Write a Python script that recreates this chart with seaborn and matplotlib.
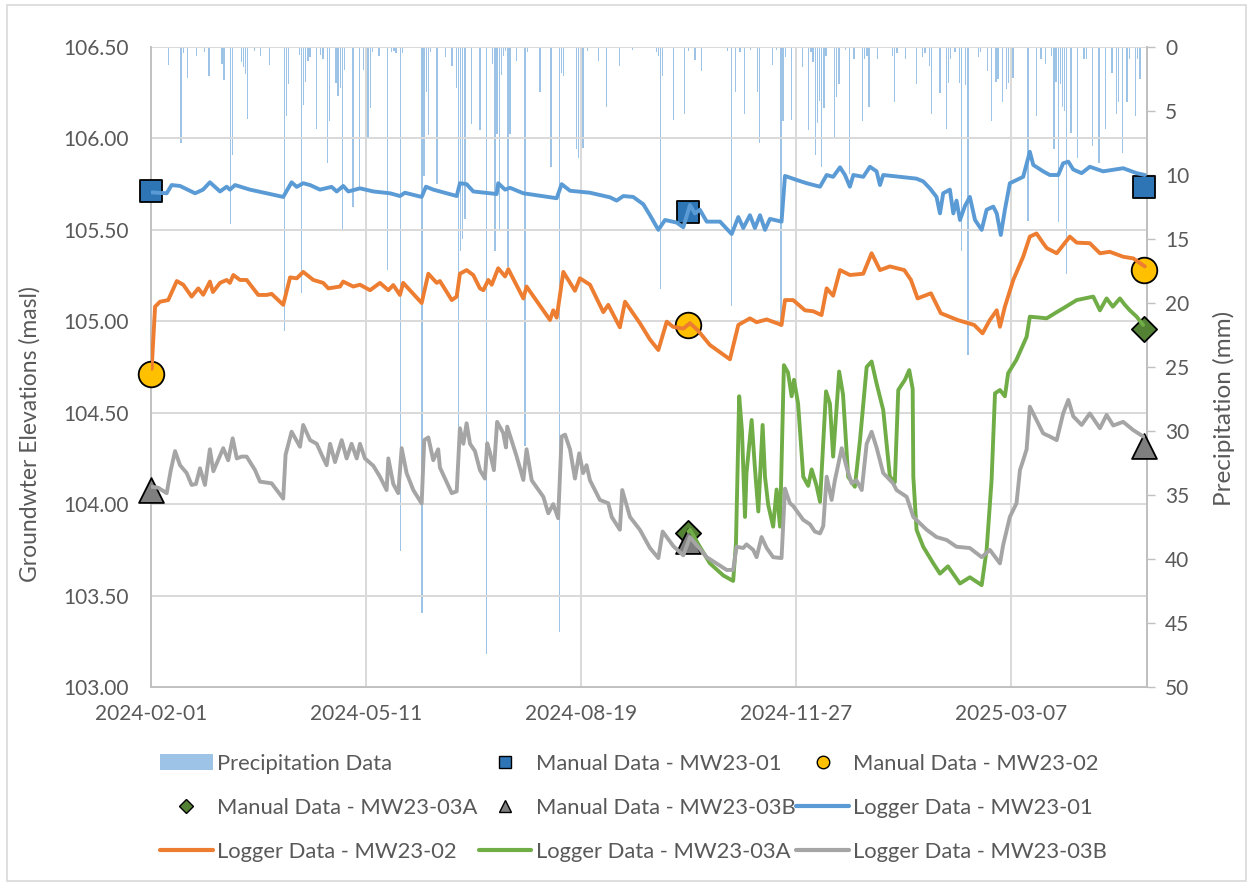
import numpy as np
import pandas as pd
import matplotlib
matplotlib.use("Agg")
import matplotlib.pyplot as plt
import matplotlib.dates as mdates
from matplotlib.patches import Patch, Rectangle
from matplotlib.lines import Line2D
from matplotlib.ticker import FixedLocator, FormatStrFormatter
import seaborn as sns

START = pd.Timestamp("2024-02-01")

# ---- Logger data (days after 2024-02-01, elevation in masl) ----
mw01_days = [0.3, 7.3, 9.6, 13.5, 20.5, 24.2, 27.4, 32.1, 35.2, 36.7, 39.1, 46, 53.8, 61.5, 65.4,
             67.8, 70.8, 74, 78.6, 84, 86.4, 89.4, 91.8, 97.2, 103.4, 111.2, 115.8, 118.1, 125.9,
             127.9, 131.3, 142.2, 143.7, 146.8, 149.9, 160.8, 161.5, 164.7, 167, 173.2, 188.7, 191,
             194.9, 204.2, 213.5, 216.6, 219.7, 224.3, 229, 232.1, 236, 239.1, 244.5, 247.6, 250.7,
             253, 255.3, 258.5, 264.7, 270.1, 273.2, 275.5, 278.6, 280.9, 283.3, 285.6, 287.9, 293.3,
             294.9, 300.3, 305, 311.2, 314.3, 317.3, 320.5, 322.8, 325.1, 326.7, 331.3, 334.4, 337.5,
             339.1, 340.6, 348.4, 356.1, 359.2, 362.3, 365.4, 367, 368.5, 371.6, 373.2, 374.7, 376.3,
             378.6, 380.9, 383.3, 386.4, 388.7, 391.8, 393.4, 395.3, 397.2, 399.5, 405.7, 408.8,
             410.4, 415, 418.1, 422, 424.3, 426.7, 429, 432.9, 436.7, 442.9, 452.2, 458.5, 462.3]
mw01_elev = [105.705, 105.70, 105.745, 105.74, 105.70, 105.72, 105.76, 105.71, 105.736, 105.72,
             105.745, 105.72, 105.70, 105.68, 105.76, 105.735, 105.755, 105.745, 105.72, 105.735,
             105.71, 105.74, 105.71, 105.727, 105.71, 105.70, 105.685, 105.703, 105.68, 105.736,
             105.72, 105.685, 105.755, 105.75, 105.71, 105.696, 105.755, 105.72, 105.73, 105.70,
             105.673, 105.75, 105.714, 105.703, 105.678, 105.66, 105.685, 105.68, 105.64, 105.58,
             105.50, 105.554, 105.54, 105.514, 105.636, 105.59, 105.61, 105.545, 105.545, 105.477,
             105.57, 105.51, 105.58, 105.51, 105.58, 105.50, 105.56, 105.545, 105.795, 105.773,
             105.755, 105.736, 105.80, 105.79, 105.842, 105.80, 105.736, 105.80, 105.79, 105.845,
             105.82, 105.745, 105.80, 105.79, 105.78, 105.765, 105.727, 105.68, 105.59, 105.70,
             105.72, 105.59, 105.66, 105.554, 105.63, 105.68, 105.554, 105.50, 105.61, 105.627,
             105.59, 105.472, 105.61, 105.755, 105.79, 105.927, 105.855, 105.82, 105.80, 105.80,
             105.864, 105.873, 105.83, 105.81, 105.845, 105.82, 105.837, 105.81, 105.80]

mw02_days = [0.3, 1.9, 4.2, 8, 12, 15, 18.9, 22, 24.3, 27.4, 28.8, 32.1, 35.2, 36.7, 38.3, 41.4,
             44.5, 49.9, 53.8, 56.1, 61.5, 64.7, 67.8, 70.8, 75.5, 80.1, 82.5, 87.9, 89.4, 94.1,
             97.2, 101.9, 106.5, 110.4, 112.7, 115.8, 117.3, 125.9, 129, 132.9, 134.4, 139.9, 142.2,
             143.7, 146.8, 149.9, 153, 154.6, 156.9, 158.5, 161.5, 164.7, 166.2, 173.2, 174.7, 185.6,
             187.1, 188.7, 191.8, 197.2, 199.5, 204.2, 210.4, 212.7, 218.1, 220.5, 227.4, 232.1, 236,
             239.9, 242.8, 247.6, 250.7, 254.4, 260, 269.3, 273.2, 278.6, 281.7, 286.4, 293.3, 294.9,
             298.7, 304.2, 308, 311.9, 314.3, 317.3, 320.5, 325.1, 331.3, 335.2, 339.1, 343.7, 350.4,
             353.5, 356.6, 362.8, 367.4, 375.2, 382.9, 386.8, 390.2, 393.4, 394.9, 397.2, 401.1,
             405.7, 408.8, 411.9, 415, 416.7, 421.3, 427.4, 430.6, 436.7, 441.4, 446, 452.2, 456.9,
             462.3]
mw02_elev = [104.74, 105.08, 105.107, 105.116, 105.22, 105.20, 105.135, 105.18, 105.145, 105.217,
             105.16, 105.21, 105.226, 105.21, 105.253, 105.226, 105.226, 105.144, 105.144, 105.15,
             105.09, 105.24, 105.235, 105.27, 105.226, 105.21, 105.18, 105.19, 105.217, 105.19,
             105.20, 105.17, 105.21, 105.17, 105.198, 105.144, 105.21, 105.10, 105.26, 105.21,
             105.22, 105.116, 105.135, 105.26, 105.28, 105.253, 105.18, 105.17, 105.226, 105.20,
             105.29, 105.245, 105.285, 105.125, 105.19, 105.007, 105.06, 105.02, 105.27, 105.167,
             105.235, 105.20, 105.05, 105.09, 104.967, 105.107, 104.99, 104.90, 104.843, 104.998,
             104.97, 104.96, 104.99, 104.95, 104.87, 104.792, 104.98, 105.016, 104.995, 105.01,
             104.98, 105.116, 105.116, 105.06, 105.055, 105.034, 105.18, 105.14, 105.28, 105.253,
             105.26, 105.372, 105.28, 105.30, 105.28, 105.226, 105.125, 105.153, 105.044, 105.007,
             104.98, 104.934, 105.007, 105.06, 104.97, 105.08, 105.226, 105.353, 105.463, 105.48,
             105.427, 105.40, 105.372, 105.463, 105.43, 105.427, 105.372, 105.38, 105.353, 105.344,
             105.30]

mw03a_days = [250, 250.7, 255.3, 260, 266.2, 270.8, 272.1, 273.6, 274.9, 276.3, 277, 279.4, 280.9,
              282.5, 284.5, 285.6, 287.1, 289.4, 291, 292.6, 294.4, 296.3, 298, 299.1, 301, 303.4,
              305.7, 307.3, 309.6, 311.2, 314, 315.8, 317.3, 320.1, 321.9, 324.3, 327.4, 329.8,
              332.9, 335.2, 337.5, 340.6, 343.7, 346, 347.6, 350.7, 352.7, 354.3, 354.6, 356.1,
              359.2, 363.9, 367, 370.7, 376.3, 380.9, 386.4, 388.7, 391, 392.6, 394.9, 397.2, 398.7,
              402.6, 407.3, 408.8, 413.5, 416.6, 421.3, 424.2, 430.6, 438.3, 441.4, 444.5, 447.4,
              450.7, 453, 455.3, 458.5, 461.5]
mw03a_elev = [103.85, 103.86, 103.767, 103.676, 103.61, 103.58, 103.786, 104.59, 104.40, 103.93,
              104.17, 104.46, 104.20, 103.96, 104.433, 104.15, 103.996, 103.877, 104.08, 103.877,
              104.76, 104.72, 104.59, 104.68, 104.55, 104.15, 104.10, 104.19, 104.10, 104.013,
              104.617, 104.55, 104.26, 104.725, 104.60, 104.15, 104.095, 104.35, 104.75, 104.78,
              104.66, 104.515, 104.15, 104.12, 104.624, 104.68, 104.733, 104.63, 104.15, 103.86,
              103.767, 103.676, 103.62, 103.66, 103.566, 103.60, 103.557, 103.75, 104.13, 104.606,
              104.624, 104.59, 104.716, 104.79, 104.915, 105.025, 105.02, 105.016, 105.05, 105.07,
              105.116, 105.135, 105.06, 105.125, 105.08, 105.125, 105.09, 105.06, 105.025, 104.98]

mw03b_days = [0.3, 3.3, 7.3, 9.2, 11.2, 13.5, 16.6, 18.9, 20.9, 22.8, 25.1, 27.4, 29, 33.6, 35.9,
              38, 39.9, 42.2, 44.5, 48.4, 50.7, 56.1, 61.5, 62.6, 65.4, 69.3, 70.8, 74, 77.1, 79.4,
              81.7, 83.3, 85.6, 88.7, 91, 93.3, 95.7, 97.2, 99.5, 103.4, 106.5, 109.6, 110.4, 112.7,
              115, 116.6, 118.9, 122, 125.9, 127.1, 129, 131.3, 133.6, 134.4, 139.9, 142.2, 143.7,
              145.3, 146.8, 148.4, 150.7, 153, 155.3, 156.4, 157.7, 159.5, 161, 163.8, 165.1, 165.7,
              170.1, 173.2, 174.7, 177.1, 182.5, 184.8, 187.1, 189.4, 191, 192.6, 194.9, 197.2,
              199.2, 201, 202.6, 204.2, 208.8, 212.7, 214.3, 218.1, 219.2, 222.8, 227.4, 232.1, 236,
              238, 243, 247.6, 250.7, 258.5, 267.8, 270.8, 272.4, 275.5, 277, 280.1, 281.7, 284,
              286.4, 289.4, 293.3, 294.9, 297.2, 298.7, 303.4, 306.5, 308.8, 311.2, 312.7, 314.3,
              316.6, 318.1, 321.3, 323.6, 325.9, 328.2, 330.6, 332.9, 335.2, 337.5, 340.6, 345.2,
              346.8, 351.5, 354.6, 357.7, 360.8, 365.4, 370.1, 374.7, 380.9, 386.4, 390.2, 394.9,
              396.4, 399.5, 402.6, 404.2, 405.7, 407.3, 408.8, 411.9, 415, 418.1, 421.3, 424.3,
              426.7, 429, 432.9, 436.7, 441.4, 444.5, 447.6, 452.2, 456.9, 461.5]
mw03b_elev = [104.095, 104.09, 104.06, 104.186, 104.29, 104.213, 104.17, 104.105, 104.11, 104.196,
              104.105, 104.30, 104.18, 104.306, 104.24, 104.36, 104.25, 104.26, 104.26, 104.186,
              104.123, 104.114, 104.03, 104.27, 104.396, 104.314, 104.433, 104.35, 104.33, 104.27,
              104.213, 104.33, 104.23, 104.35, 104.25, 104.33, 104.25, 104.33, 104.25, 104.21,
              104.15, 104.077, 104.25, 104.11, 104.06, 104.306, 104.17, 104.077, 104.004, 104.35,
              104.365, 104.24, 104.30, 104.20, 104.06, 104.07, 104.415, 104.33, 104.442, 104.33,
              104.29, 104.186, 104.14, 104.333, 104.28, 104.186, 104.45, 104.39, 104.31, 104.424,
              104.26, 104.132, 104.30, 104.13, 104.04, 103.95, 104.00, 103.923, 104.37, 104.38,
              104.30, 104.14, 104.278, 104.17, 104.213, 104.13, 104.023, 104.005, 103.93, 103.86,
              104.077, 103.93, 103.86, 103.76, 103.705, 103.85, 103.77, 103.72, 103.82, 103.71,
              103.64, 103.64, 103.767, 103.76, 103.78, 103.75, 103.71, 103.82, 103.76, 103.71,
              103.705, 104.085, 104.005, 103.99, 103.914, 103.89, 103.85, 103.84, 103.88, 104.15,
              104.023, 104.13, 104.306, 104.20, 104.114, 104.13, 104.077, 104.33, 104.396, 104.31,
              104.17, 104.114, 104.077, 104.04, 103.93, 103.895, 103.86, 103.82, 103.804, 103.767,
              103.76, 103.71, 103.75, 103.676, 103.777, 103.93, 104.005, 104.186, 104.24, 104.30,
              104.533, 104.46, 104.387, 104.37, 104.35, 104.496, 104.57, 104.48, 104.433, 104.496,
              104.415, 104.488, 104.43, 104.45, 104.405, 104.37]

# ---- Manual measurements ----
manual_days = [0, 250, 462]
mw01_manual = [105.71, 105.595, 105.735]
mw02_manual = [104.71, 104.98, 105.28]
mw03a_manual_days = [250, 462]
mw03a_manual = [103.84, 104.96]
mw03b_manual = [104.08, 103.80, 104.32]

# ---- Daily precipitation (mm) ----
precip_days = [8, 14, 15, 17, 21, 25, 27, 33, 34, 37, 38, 42, 43, 44, 45, 48, 51, 55, 62, 63, 64,
               69, 70, 71, 72, 73, 74, 77, 79, 80, 82, 83, 86, 87, 88, 89, 90, 94, 97, 99, 100, 101,
               102, 103, 106, 110, 112, 113, 114, 116, 117, 126, 127, 128, 129, 130, 133, 137, 140,
               142, 143, 144, 145, 146, 149, 153, 156, 159, 160, 161, 162, 163, 164, 165, 166, 167,
               170, 174, 175, 181, 186, 190, 191, 192, 198, 199, 200, 201, 203, 208, 212, 218, 224,
               235, 236, 237, 238, 243, 248, 250, 253, 256, 268, 270, 272, 274, 276, 279, 282, 283,
               289, 291, 293, 294, 295, 298, 303, 306, 307, 308, 309, 310, 311, 312, 313, 314, 318,
               319, 320, 323, 325, 327, 331, 332, 333, 334, 338, 345, 346, 347, 351, 356, 359, 360,
               362, 363, 367, 370, 371, 372, 374, 376, 377, 379, 380, 385, 386, 389, 391, 393, 394,
               396, 398, 399, 401, 408, 412, 414, 416, 419, 420, 421, 422, 423, 424, 425, 426, 428,
               431, 434, 435, 438, 441, 444, 447, 449, 450, 452, 454, 455, 458, 459, 460]
precip_mm = [1.4, 7.5, 0.5, 2.4, 0.7, 0.4, 2.3, 1.3, 2.6, 13.8, 8.4, 1.2, 1.6, 2.1, 5.6, 0.3, 0.7,
             1.4, 22.2, 5.4, 2.9, 0.6, 19.2, 4.5, 2.7, 1.1, 0.8, 6.4, 0.6, 0.9, 9.1, 5.8, 2.8, 3.8,
             3.2, 14.2, 1.8, 12.5, 11.2, 1.8, 7.8, 7.2, 4.8, 0.4, 0.7, 17.4, 0.4, 0.3, 0.5, 39.4,
             0.5, 44.2, 10.1, 3.5, 6.9, 0.4, 10.7, 0.8, 1.5, 3.2, 29.7, 15.9, 15.0, 13.4, 6.0, 6.5,
             47.4, 1.3, 15.9, 6.8, 14.3, 2.2, 0.7, 0.3, 17.2, 6.8, 1.1, 31.2, 0.4, 3.5, 9.4, 45.7,
             2.0, 2.3, 8.0, 8.7, 0.6, 7.9, 0.3, 1.1, 4.7, 1.5, 0.2, 0.4, 0.7, 18.9, 2.3, 5.7, 5.2,
             0.3, 1.0, 1.9, 0.3, 20.2, 3.5, 0.4, 5.2, 0.2, 3.5, 7.5, 1.4, 0.2, 21.9, 5.8, 0.8, 5.7,
             1.6, 6.5, 0.4, 1.2, 8.4, 5.9, 4.2, 9.4, 4.8, 0.7, 7.1, 3.9, 2.9, 0.2, 9.9, 0.9, 5.8,
             0.9, 0.7, 4.7, 0.9, 0.7, 4.3, 0.5, 0.9, 2.9, 0.8, 0.5, 1.5, 5.2, 3.6, 6.4, 2.8, 0.9,
             0.4, 2.8, 15.9, 3.0, 24.1, 0.8, 0.4, 1.9, 5.8, 2.7, 2.5, 4.3, 3.3, 2.8, 2.4, 13.6,
             5.4, 0.9, 1.3, 0.7, 8.0, 2.7, 13.7, 2.9, 4.7, 5.0, 17.7, 6.7, 8.7, 0.9, 0.9, 7.7, 9.1,
             6.4, 2.0, 5.2, 4.3, 8.3, 4.3, 0.9, 5.4, 0.9, 2.5]

x_tick_days = [0, 100, 200, 300, 400]
x_end_day = 463.3
elev_ticks = [103.0, 103.5, 104.0, 104.5, 105.0, 105.5, 106.0, 106.5]
precip_ticks = list(range(0, 55, 5))

COLORS = {
    "Logger Data - MW23-01": "#5B9BD5",
    "Logger Data - MW23-02": "#ED7D31",
    "Logger Data - MW23-03A": "#70AD47",
    "Logger Data - MW23-03B": "#A5A5A5",
}
PRECIP_COLOR = "#9DC3E6"
TEXT = "#595959"
GRID = "#D9D9D9"
TICK_SIZE = 15
TITLE_SIZE = 16.5
LEGEND_SIZE = 15.8


def to_dates(days):
    return START + pd.to_timedelta(np.asarray(days, dtype=float), unit="D")


sns.set_theme(style="white")
plt.rcParams["font.family"] = ["Lato", "DejaVu Sans"]

fig = plt.figure(figsize=(12.53, 8.86), dpi=100)
ax = fig.add_axes([151 / 1253, 1 - 687 / 886, 996 / 1253, 640 / 886])
ax2 = ax.twinx()
ax.set_zorder(ax2.get_zorder() + 1)
ax.patch.set_visible(False)

# precipitation on the secondary (inverted) axis
ax2.bar(to_dates(precip_days), precip_mm, width=0.6, color=PRECIP_COLOR, linewidth=0, zorder=1)
ax2.set_ylim(50, 0)
ax2.yaxis.set_major_locator(FixedLocator(precip_ticks))
ax2.tick_params(axis="y", which="major", right=True, length=6, width=1, color="#BFBFBF",
                labelcolor=TEXT, labelsize=TICK_SIZE, pad=7)
ax2.set_ylabel("Precipitation (mm)", color=TEXT, fontsize=TITLE_SIZE + 1)
ax2.yaxis.set_label_coords(1 + 66 / 996, 0.435)
ax2.grid(False)

# logger time series
logger = pd.concat([
    pd.DataFrame({"date": to_dates(mw01_days), "elev": mw01_elev, "series": "Logger Data - MW23-01"}),
    pd.DataFrame({"date": to_dates(mw02_days), "elev": mw02_elev, "series": "Logger Data - MW23-02"}),
    pd.DataFrame({"date": to_dates(mw03a_days), "elev": mw03a_elev, "series": "Logger Data - MW23-03A"}),
    pd.DataFrame({"date": to_dates(mw03b_days), "elev": mw03b_elev, "series": "Logger Data - MW23-03B"}),
], ignore_index=True)

# manual readings
manual_specs = [
    ("Manual Data - MW23-01", manual_days, mw01_manual, "s", 250, "#2E75B6"),
    ("Manual Data - MW23-02", manual_days, mw02_manual, "o", 340, "#FFC000"),
    ("Manual Data - MW23-03A", mw03a_manual_days, mw03a_manual, "D", 165, "#548235"),
    ("Manual Data - MW23-03B", manual_days, mw03b_manual, "^", 320, "#7F7F7F"),
]
for i, (name, d, v, mk, size, col) in enumerate(manual_specs):
    sns.scatterplot(x=to_dates(d), y=v, marker=mk, s=size, color=col, edgecolor="black",
                    linewidth=1.3, ax=ax, legend=False, zorder=3 + i * 0.1, clip_on=False)

sns.lineplot(data=logger, x="date", y="elev", hue="series", palette=COLORS, estimator=None,
             sort=False, linewidth=2.8, legend=False, ax=ax, zorder=5)

ax.set_xlim(to_dates([0])[0], to_dates([x_end_day])[0])
ax.set_ylim(103.0, 106.5)
ax.yaxis.set_major_locator(FixedLocator(elev_ticks))
ax.yaxis.set_major_formatter(FormatStrFormatter("%.2f"))
ax.xaxis.set_major_locator(FixedLocator(mdates.date2num(to_dates(x_tick_days))))
ax.xaxis.set_major_formatter(mdates.DateFormatter("%Y-%m-%d"))
ax.tick_params(axis="both", length=0, labelcolor=TEXT, labelsize=TICK_SIZE)
ax.tick_params(axis="y", pad=16)
ax.tick_params(axis="x", pad=12)
ax.set_xlabel("")
ax.set_ylabel("Groundwter Elevations (masl)", color=TEXT, fontsize=TITLE_SIZE)
ax.yaxis.set_label_coords(-110 / 996, 0.395)
ax.grid(True, color=GRID, linewidth=1.4, zorder=0)

for a in (ax, ax2):
    for side, sp in a.spines.items():
        sp.set_visible(side in ("bottom", "right", "left"))
        sp.set_color("#BFBFBF")
        sp.set_linewidth(1.2)

# legend laid out row by row across three columns
h_precip = Patch(facecolor=PRECIP_COLOR, edgecolor="none")
h_man = {name: Line2D([], [], linestyle="none", marker=mk, markersize=9 if mk != "D" else 7,
                      markerfacecolor=col, markeredgecolor="black", markeredgewidth=1.0)
         for name, _, _, mk, _, col in manual_specs}
h_log = {name: Line2D([], [], color=c, linewidth=3) for name, c in COLORS.items()}
rows = [
    [("Precipitation Data", h_precip), ("Manual Data - MW23-01", h_man["Manual Data - MW23-01"]),
     ("Manual Data - MW23-02", h_man["Manual Data - MW23-02"])],
    [("Manual Data - MW23-03A", h_man["Manual Data - MW23-03A"]),
     ("Manual Data - MW23-03B", h_man["Manual Data - MW23-03B"]),
     ("Logger Data - MW23-01", h_log["Logger Data - MW23-01"])],
    [("Logger Data - MW23-02", h_log["Logger Data - MW23-02"]),
     ("Logger Data - MW23-03A", h_log["Logger Data - MW23-03A"]),
     ("Logger Data - MW23-03B", h_log["Logger Data - MW23-03B"])],
]
order = [rows[r][c] for c in range(3) for r in range(3)]
leg = fig.legend([h for _, h in order], [l for l, _ in order], ncol=3, loc="upper left",
                 bbox_to_anchor=(160 / 1253, 1 - 754 / 886), frameon=False, fontsize=LEGEND_SIZE,
                 borderpad=0, borderaxespad=0, handlelength=2.4, handleheight=0.75,
                 handletextpad=0.2, columnspacing=0.05, labelspacing=1.1, labelcolor=TEXT)

fig.patches.append(Rectangle((7 / 1253, 5 / 886), 1239 / 1253, 876 / 886, transform=fig.transFigure,
                             fill=False, edgecolor=GRID, linewidth=1.2))

fig.savefig("out.png", dpi=100)
